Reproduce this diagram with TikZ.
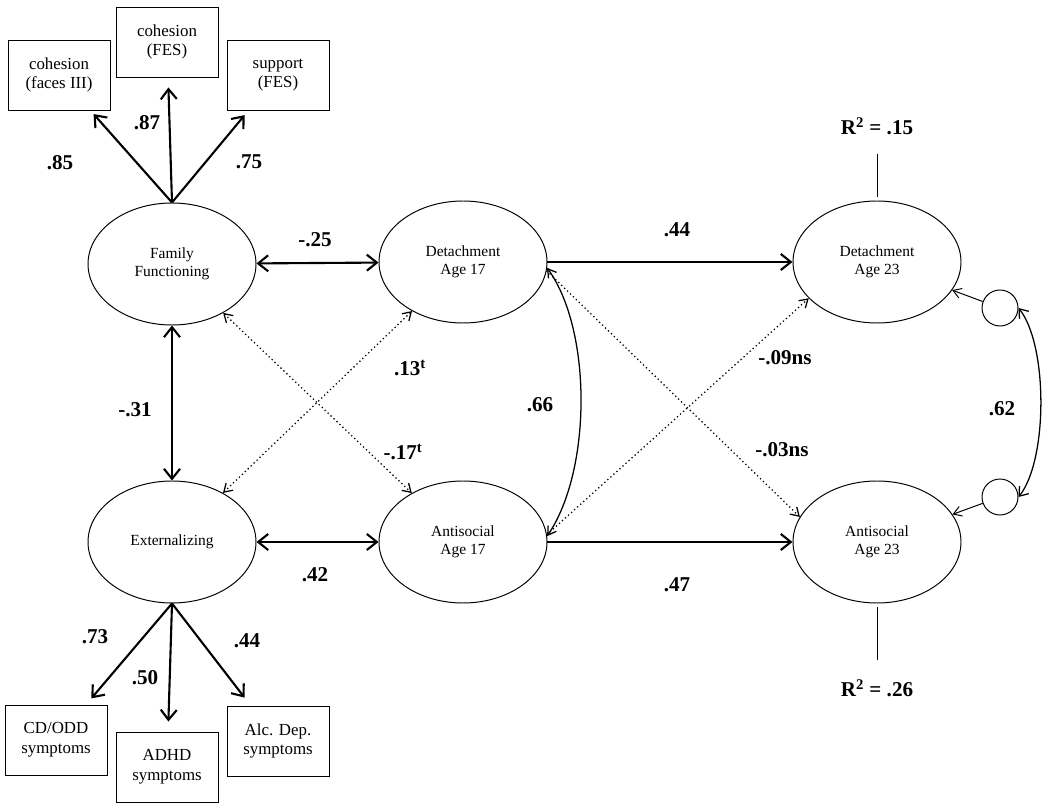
\documentclass[tikz,border=0pt]{standalone}
\usepackage{fontspec}
\setmainfont{Liberation Serif}
\usetikzlibrary{arrows.meta,shapes.geometric,shadows}

\begin{document}
\begin{tikzpicture}[x=0.25mm,y=-0.25mm,
	latent/.style={draw,ellipse,line width=0.7pt,minimum width=42mm,minimum height=30.5mm,align=center,font=\fontsize{11}{13}\selectfont},
	indicator/.style={draw,fill=white,line width=0.7pt,minimum width=25.5mm,minimum height=17.5mm,align=center,font=\fontsize{12}{14}\selectfont,drop shadow={shadow xshift=0.8pt,shadow yshift=-0.8pt,opacity=0.35}},
	resid/.style={draw,circle,line width=0.7pt,minimum size=9mm},
	coef/.style={font=\bfseries\fontsize{15}{17}\selectfont},
	path/.style={line width=1.5pt,-{Straight Barb[length=2.5mm,width=4mm]}},
	corr/.style={line width=1.5pt,{Straight Barb[length=2.5mm,width=4mm]}-{Straight Barb[length=2.5mm,width=4mm]}},
	weak/.style={dotted,line width=0.9pt}]
	\useasboundingbox (0,0) rectangle (1050,809);
	\node[latent] (ff) at (172,264) {Family\\Functioning};
	\node[latent] (ext) at (172,542) {Externalizing};
	\node[latent] (d17) at (463,262) {Detachment\\Age 17};
	\node[latent] (a17) at (463,542) {Antisocial\\Age 17};
	\node[latent] (d23) at (877,262) {Detachment\\Age 23};
	\node[latent] (a23) at (877,542) {Antisocial\\Age 23};
	\node[resid] (e1) at (1000,308) {};
	\node[resid] (e2) at (1000,497) {};
	\node[indicator] (coh1) at (59,75) {cohesion\\(faces III)};
	\node[indicator] (coh2) at (167,42) {cohesion\\(FES)};
	\node[indicator] (supp) at (278,75) {support\\(FES)};
	\node[indicator] (cdodd) at (56,740) {CD/ODD\\symptoms};
	\node[indicator] (adhd) at (167,767) {ADHD\\symptoms};
	\node[indicator] (alc) at (278,741) {Alc. Dep.\\symptoms};
	\node[coef] (r2d) at (877,126) {R\textsuperscript{2} = .15};
	\node[coef] (r2a) at (877,688) {R\textsuperscript{2} = .26};
	\draw[path,shorten >=1.2mm] (ff.north) -- (coh1);
	\draw[path,shorten >=2.5mm] (ff.north) -- (coh2);
	\draw[path,shorten >=1.5mm] (ff.north) -- (supp);
	\draw[path,shorten >=2mm] (ext.south) -- (cdodd);
	\draw[path,shorten >=2.5mm] (ext.south) -- (adhd);
	\draw[path,shorten >=2.5mm] (ext.south) -- (alc);
	\draw[corr] (ff) -- (d17);
	\draw[corr] (ext) -- (a17);
	\draw[corr] (ff) -- (ext);
	\draw[weak,{Straight Barb[length=2mm,width=2.5mm]}-{Straight Barb[length=2mm,width=2.5mm]}] (ff) -- (a17);
	\draw[weak,{Straight Barb[length=2mm,width=2.5mm]}-{Straight Barb[length=2mm,width=2.5mm]}] (ext) -- (d17);
	\draw[path] (d17) -- (d23);
	\draw[path] (a17) -- (a23);
	\draw[weak,-{Straight Barb[length=2mm,width=2.5mm]}] (d17.-6) -- (a23.162);
	\draw[weak,-{Straight Barb[length=2mm,width=2.5mm]}] (a17.5) -- (d23.208);
	\draw[line width=0.9pt,{Straight Barb[length=2mm,width=2.5mm]}-{Straight Barb[length=2mm,width=2.5mm]}] (d17.-4) .. controls (592,330) and (592,470) .. (a17.4);
	\draw[line width=0.9pt,{Straight Barb[length=2mm,width=3mm]}-{Straight Barb[length=2mm,width=3mm]}] (e1.east) .. controls (1048,345) and (1048,460) .. (e2.east);
	\draw[line width=0.7pt,-{Straight Barb[length=2mm,width=2.5mm]}] (e1) -- (d23);
	\draw[line width=0.7pt,-{Straight Barb[length=2mm,width=2.5mm]}] (e2) -- (a23);
	\draw[line width=0.7pt,shorten <=3.5mm,shorten >=1mm] (r2d) -- (d23);
	\draw[line width=0.7pt,shorten <=3.5mm,shorten >=1mm] (r2a) -- (a23);
	\node[coef] (l85) at (60,163) {.85};
	\node[coef] (l87) at (147,123) {.87};
	\node[coef] (l75) at (249,162) {.75};
	\node[coef] (l73) at (95,637) {.73};
	\node[coef] (l50) at (145,678) {.50};
	\node[coef] (l44b) at (247,641) {.44};
	\node[coef] (l25) at (315,240) {-.25};
	\node[coef] (l31) at (135,410) {-.31};
	\node[coef] (l42) at (315,575) {.42};
	\node[coef] (l13) at (410,368) {.13\textsuperscript{t}};
	\node[coef] (l17) at (403,452) {-.17\textsuperscript{t}};
	\node[coef] (l66) at (540,405) {.66};
	\node[coef] (l44) at (677,230) {.44};
	\node[coef] (l47) at (677,585) {.47};
	\node[coef] (l09) at (785,358) {-.09ns};
	\node[coef] (l03) at (782,450) {-.03ns};
	\node[coef] (l62) at (1002,409) {.62};
\end{tikzpicture}
\end{document}
